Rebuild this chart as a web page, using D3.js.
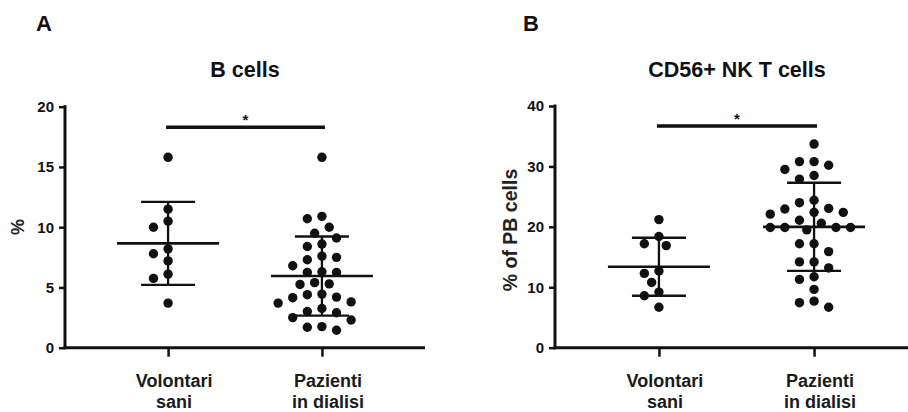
<!DOCTYPE html>
<html><head><meta charset="utf-8">
<script src="https://cdn.jsdelivr.net/npm/d3@7"></script>
<style>html,body{margin:0;padding:0;background:#fff;}svg{display:block;}</style>
</head><body>
<svg id="c" width="908" height="412"></svg>
<script>
// ---- data ----
const categories = ["Volontari|sani", "Pazienti|in dialisi"];
const titles = ["B cells", "CD56+ NK T cells"];
const panelLetters = ["A", "B"];
const yLabels = ["%", "% of PB cells"];
const yTicksA = [0, 5, 10, 15, 20];
const yTicksB = [0, 10, 20, 30, 40];
const bVolontari = [15.8, 11.5, 10.5, 10.0, 8.2, 7.8, 7.2, 6.1, 5.75, 3.7];
const bPazienti = [15.8, 10.9, 10.7, 10.0, 9.5, 9.1, 8.6, 8.4, 7.6, 7.5, 7.3, 6.8, 6.3, 6.25, 6.25,
  5.4, 5.3, 5.25, 4.45, 4.4, 4.2, 4.15, 3.8, 3.7, 3.25, 3.0, 2.9, 2.5, 2.3, 1.75, 1.7, 1.45];
const nkVolontari = [21.2, 18.4, 17.2, 16.9, 12.7, 12.3, 10.8, 9.2, 8.6, 6.7];
const nkPazienti = [33.7, 30.8, 30.8, 30.2, 29.5, 28.5, 27.9, 24.4, 24.0, 23.05, 22.95, 22.4, 22.4, 22.1,
  21.1, 20.6, 19.9, 19.9, 19.9, 19.9, 19.5, 17.2, 17.2, 15.9, 14.2, 14.2, 13.2, 11.75, 11.3, 9.65, 7.7, 7.45, 6.7];
const meansA = [8.66, 5.95], sdsA = [3.44, 3.28];
const meansB = [13.4, 20.0], sdsB = [4.8, 7.3];
const sigA = {y: 18.3, label: "*"};
const sigB = {y: 36.7, label: "*"};

const svg = d3.select("#c");
const ink = "#111";

function swarm(vals, y, cx, step, minD) {
  const sorted = vals.map(v => ({v, py: y(v)})).sort((a, b) => b.v - a.v);
  const placed = [];
  sorted.forEach(p => {
    for (let k = 0; k < 60; k++) {
      const m = k === 0 ? 0 : (k % 2 ? -Math.ceil(k / 2) : k / 2);
      const px = cx + m * step;
      if (placed.every(q => Math.hypot(q.px - px, q.py - p.py) >= minD)) { p.px = px; break; }
    }
    placed.push(p);
  });
  return placed;
}

function panel(o) {
  const g = svg.append("g");
  const y = d3.scaleLinear().domain(o.domain).range([347.7, o.yTop]);
  const x = d3.scalePoint().domain(categories).range([o.x0, o.x1]).padding(0.67);

  const ya = g.append("g").attr("transform", `translate(${o.x0},0)`)
    .call(d3.axisLeft(y).tickValues(o.ticks).tickSize(6).tickPadding(5));
  ya.select(".domain").attr("stroke", ink).attr("stroke-width", 3).attr("d", `M0,${y(0)+1.5}V${y(o.domain[1])-1.5}`);
  ya.selectAll(".tick line").attr("stroke", ink).attr("stroke-width", 2.5);
  ya.selectAll(".tick text").attr("fill", ink).style("font-family", "Liberation Sans, Arial, sans-serif")
    .style("font-weight", "bold").style("font-size", "15px");

  const xa = g.append("g").attr("transform", `translate(0,${y(0)})`)
    .call(d3.axisBottom(x).tickSize(9).tickFormat(""));
  xa.select(".domain").attr("stroke", ink).attr("stroke-width", 3).attr("d", `M${o.x0-1.5},0H${o.x1}`);
  xa.selectAll(".tick line").attr("stroke", ink).attr("stroke-width", 2.5);

  categories.forEach(c => {
    const t = g.append("text").attr("x", x(c) + 6).attr("y", 387).attr("text-anchor", "middle")
      .style("font-family", "Liberation Sans, Arial, sans-serif").style("font-size", "18px").style("font-weight", "bold").attr("fill", "#1a1a1a");
    c.split("|").forEach((s, i) => t.append("tspan").attr("x", x(c) + 6).attr("dy", i ? 21 : 0).text(s));
  });

  o.series.forEach((vals, i) => {
    const pts = swarm(vals, y, x(categories[i]), 7.3, 11.5);
    g.selectAll(null).data(pts).enter().append("circle")
      .attr("cx", d => d.px).attr("cy", d => d.py).attr("r", 4.7).attr("fill", ink);
  });

  o.means.forEach((m, i) => {
    const cx = x(categories[i]);
    const s = o.sds[i];
    g.append("line").attr("x1", cx - 51).attr("x2", cx + 51).attr("y1", y(m)).attr("y2", y(m))
      .attr("stroke", ink).attr("stroke-width", 2.6);
    g.append("line").attr("x1", cx).attr("x2", cx).attr("y1", y(m - s)).attr("y2", y(m + s))
      .attr("stroke", ink).attr("stroke-width", 2.3);
    [m - s, m + s].forEach(v => g.append("line").attr("x1", cx - 27).attr("x2", cx + 27)
      .attr("y1", y(v)).attr("y2", y(v)).attr("stroke", ink).attr("stroke-width", 2.3));
  });

  const xa1 = x(categories[0]) - 2, xa2 = x(categories[1]) + 3;
  g.append("line").attr("x1", xa1).attr("x2", xa2).attr("y1", y(o.sig.y)).attr("y2", y(o.sig.y))
    .attr("stroke", ink).attr("stroke-width", 3.5);
  g.append("text").attr("x", (xa1 + xa2) / 2).attr("y", y(o.sig.y) - 2).attr("text-anchor", "middle")
    .style("font-family", "Liberation Sans, Arial, sans-serif").style("font-weight", "bold").style("font-size", "15px")
    .attr("fill", ink).text(o.sig.label);

  g.append("text").attr("x", o.titleX).attr("y", 77).attr("text-anchor", "middle")
    .style("font-family", "Liberation Sans, Arial, sans-serif").style("font-weight", "bold").style("font-size", "21.5px")
    .attr("fill", ink).text(o.title);
  g.append("text").attr("x", o.letterX).attr("y", 31)
    .style("font-family", "Liberation Sans, Arial, sans-serif").style("font-weight", "bold").style("font-size", "22px")
    .attr("fill", ink).text(o.letter);
  g.append("text").attr("transform", `translate(${o.ylabX},${o.ylabY}) rotate(-90)`).attr("text-anchor", "middle")
    .style("font-family", "Liberation Sans, Arial, sans-serif").style("font-weight", "bold").style("font-size", o.ylabSize)
    .attr("fill", "#222").text(o.ylab);
}

panel({x0: 65, x1: 425, domain: [0, 20], yTop: 106.7, ticks: yTicksA, series: [bVolontari, bPazienti],
  means: meansA, sds: sdsA, sig: sigA, title: titles[0], titleX: 245, letter: panelLetters[0], letterX: 36,
  ylab: yLabels[0], ylabX: 24, ylabY: 227, ylabSize: "18px"});
panel({x0: 555, x1: 918, domain: [0, 40], yTop: 106, ticks: yTicksB, series: [nkVolontari, nkPazienti],
  means: meansB, sds: sdsB, sig: sigB, title: titles[1], titleX: 737, letter: panelLetters[1], letterX: 523,
  ylab: yLabels[1], ylabX: 517, ylabY: 230, ylabSize: "19.5px"});
</script>
</body></html>
